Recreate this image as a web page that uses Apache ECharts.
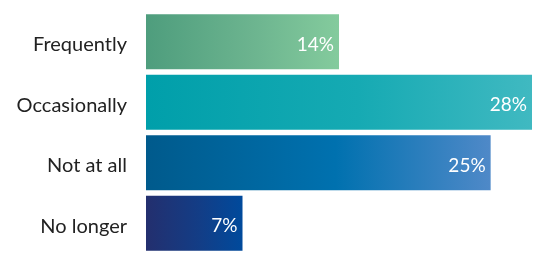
<!DOCTYPE html>
<html>
<head>
<meta charset="utf-8">
<script src="https://cdn.jsdelivr.net/npm/echarts@6/dist/echarts.min.js"></script>
<style>html,body{margin:0;padding:0;background:#fff}#c{width:551px;height:268px}</style>
</head>
<body>
<div id="c"></div>
<script>
const categories = ["Frequently", "Occasionally", "Not at all", "No longer"];
const values = [14, 28, 25, 7];
const gradients = [
  ["#4e9d7d", "#6cb48f", "#84cb9d"],
  ["#009faa", "#16aab3", "#40b9c1"],
  ["#005a8c", "#0071af", "#4f89c8"],
  ["#232f6e", "#133d86", "#004a9c"]
];
const chart = echarts.init(document.getElementById('c'), null, {renderer: 'canvas'});
const data = values.map((v, i) => ({
  value: v,
  itemStyle: {
    color: new echarts.graphic.LinearGradient(0, 0, 1, 0, [
      {offset: 0, color: gradients[i][0]},
      {offset: 0.55, color: gradients[i][1]},
      {offset: 1, color: gradients[i][2]}
    ])
  }
}));
chart.setOption({
  animation: false,
  grid: {left: 146, right: 19, top: 11.5, bottom: 14.5, containLabel: false},
  xAxis: {type: 'value', min: 0, max: 28, show: false},
  yAxis: {
    type: 'category', data: categories, inverse: true,
    axisLine: {show: false}, axisTick: {show: false},
    axisLabel: {
      margin: 19,
      formatter: v => '{a|' + v + '}',
      rich: {a: {color: '#222', fontSize: 20, fontFamily: 'Lato', padding: [6, 0, 0, 0]}}
    }
  },
  series: [{
    type: 'bar', data: data, barWidth: 55,
    label: {
      show: true, position: 'insideRight', distance: 5, offset: [0, 3],
      formatter: p => p.value + '%',
      color: '#fff', fontSize: 19, fontFamily: 'Lato'
    }
  }]
});
</script>
</body>
</html>
